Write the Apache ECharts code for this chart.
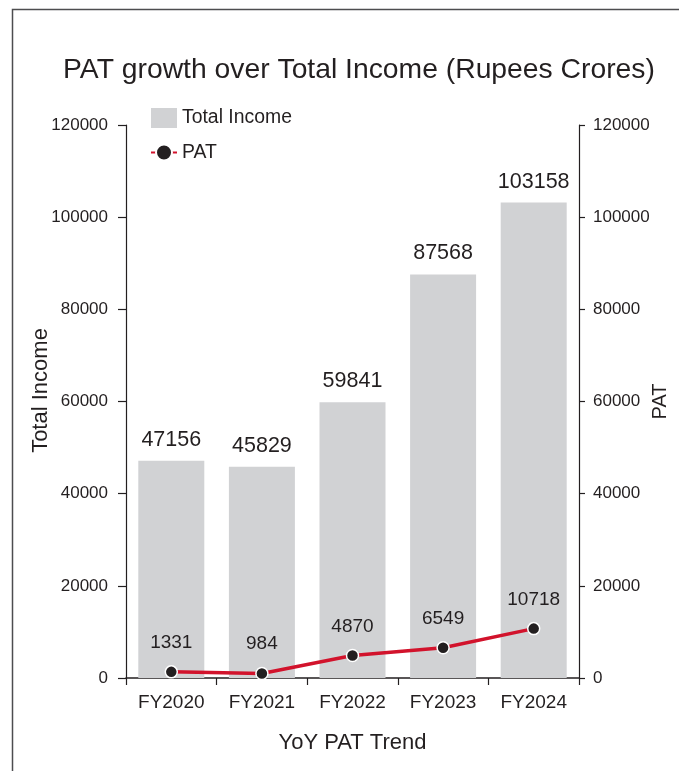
<!DOCTYPE html>
<html>
<head>
<meta charset="utf-8">
<script src="https://cdn.jsdelivr.net/npm/echarts@6/dist/echarts.min.js"></script>
<style>
  html, body { margin: 0; padding: 0; background: #ffffff; }
  #chart { width: 679px; height: 771px; }
</style>
</head>
<body>
<div id="chart"></div>
<script>
// Fiscal years and values in Rupees Crores
const years = ['FY2020', 'FY2021', 'FY2022', 'FY2023', 'FY2024'];
const totalIncome = [47156, 45829, 59841, 87568, 103158];
const pat = [1331, 984, 4870, 6549, 10718];
const axisMax = 120000;
const axisStep = 20000;

const ink = '#231f20';
const font = 'Liberation Sans, Arial, sans-serif';

const chart = echarts.init(document.getElementById('chart'), null, { renderer: 'canvas' });

function valueAxis(side) {
  const isLeft = side === 'left';
  return {
    type: 'value',
    position: side,
    min: 0,
    max: axisMax,
    interval: axisStep,
    splitLine: { show: false },
    axisLine: { show: true, lineStyle: { color: ink, width: 1.2 } },
    axisTick: { show: true, length: isLeft ? 8 : 6, lineStyle: { color: ink, width: 1.2 } },
    axisLabel: {
      color: ink,
      fontSize: 17,
      fontFamily: font,
      margin: isLeft ? 18 : 14,
      formatter: (v) => String(v)
    },
    name: isLeft ? 'Total Income' : 'PAT',
    nameLocation: 'middle',
    nameGap: isLeft ? 74 : 71,
    nameMoveOverlap: false,
    nameTextStyle: {
      color: ink,
      fontSize: isLeft ? 22 : 20,
      fontFamily: font,
      // nudges the left title slightly above the plot's mid-height
      padding: isLeft ? [0, 0, 0, 22] : 0
    }
  };
}

chart.setOption({
  backgroundColor: '#ffffff',
  animation: false,
  title: {
    text: 'PAT growth over Total Income (Rupees Crores)',
    left: 354,
    textAlign: 'center',
    top: 51,
    textStyle: { color: ink, fontSize: 28.3, fontWeight: 'normal', fontFamily: font }
  },
  legend: {
    orient: 'vertical',
    left: 145,
    top: 103,
    itemGap: 15,
    itemWidth: 26,
    itemHeight: 20,
    textStyle: { color: ink, fontSize: 19.4, fontFamily: font },
    data: [
      { name: 'Total Income', icon: 'rect' },
      { name: 'PAT' }
    ]
  },
  grid: { left: 126, right: 100, top: 125, bottom: 93, containLabel: false, outerBoundsMode: 'none' },
  xAxis: {
    type: 'category',
    data: years,
    name: 'YoY PAT Trend',
    nameLocation: 'middle',
    nameGap: 54,
    nameMoveOverlap: false,
    nameTextStyle: { color: ink, fontSize: 22, fontFamily: font },
    axisLine: { show: true, lineStyle: { color: ink, width: 1.5 } },
    axisTick: { show: true, length: 7, lineStyle: { color: ink, width: 1.2 } },
    axisLabel: { color: ink, fontSize: 19, fontFamily: font, margin: 15 }
  },
  yAxis: [valueAxis('left'), valueAxis('right')],
  series: [
    {
      name: 'Total Income',
      type: 'bar',
      yAxisIndex: 0,
      data: totalIncome,
      barWidth: 66,
      itemStyle: { color: '#d1d2d4' },
      label: {
        show: true,
        position: 'top',
        distance: 10,
        color: ink,
        fontSize: 21.5,
        fontFamily: font
      }
    },
    {
      name: 'PAT',
      type: 'line',
      yAxisIndex: 1,
      data: pat,
      symbol: 'circle',
      symbolSize: 12,
      lineStyle: { color: '#d2132c', width: 3.5 },
      itemStyle: { color: '#231f20', borderColor: '#ffffff', borderWidth: 1.5 },
      label: {
        show: true,
        position: 'top',
        distance: 13,
        color: ink,
        fontSize: 19,
        fontFamily: font
      },
      z: 5
    }
  ],
  graphic: [
    {
      type: 'polyline',
      shape: { points: [[12.5, 771], [12.5, 9.5], [679, 9.5]] },
      style: { stroke: '#4d4d4f', lineWidth: 1.5, fill: null },
      silent: true
    }
  ]
});
</script>
</body>
</html>
